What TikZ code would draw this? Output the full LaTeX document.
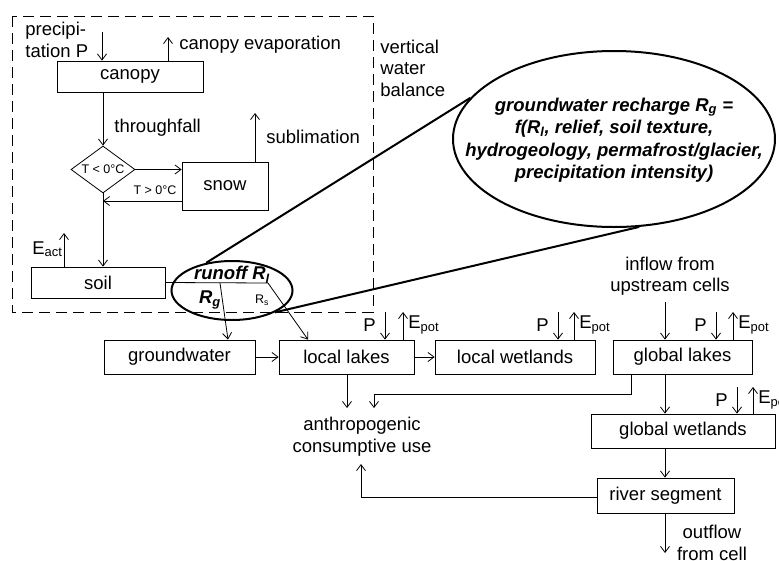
\documentclass[tikz,border=0pt]{standalone}
\usepackage{fontspec}
\setmainfont{Liberation Sans}
\usetikzlibrary{shapes.geometric}
\usetikzlibrary{arrows.meta}

\tikzset{
  box/.style={draw, inner sep=0pt},
  lbl/.style={inner sep=0pt},
  small/.style={font=\fontsize{12.5}{14}\selectfont},
  bubble/.style={draw, ellipse, line width=2pt, inner sep=0pt},
  bolditalic/.style={font=\fontsize{18.5}{22.5}\selectfont\bfseries\itshape},
}

\begin{document}
\begin{tikzpicture}[x=1pt, y=-1pt, line width=0.8pt, >={Straight Barb[length=6pt,width=9pt]},
    every node/.style={font=\fontsize{18.5}{21.5}\selectfont}]
    \useasboundingbox (0,0) rectangle (779,560);

    % vertical water balance
    \draw[dash pattern=on 11pt off 6pt] (12,16) rectangle (373,312);
    \node[lbl, anchor=west, align=left] (vwb) at (380,68) {vertical\\water\\balance};

    \node[box, minimum width=146pt, minimum height=31pt] (canopy) at (130,76.5) {canopy};
    \node[box, diamond, aspect=1.4, minimum width=64pt, minimum height=47pt, small] (temp) at (103,169.5) {T < 0°C};
    \node[box, minimum width=86pt, minimum height=48pt] (snow) at (225,186) {snow};
    \node[box, minimum width=134pt, minimum height=31pt] (soil) at (98,282.5) {soil};

    \node[lbl, anchor=west, align=left] (precip) at (25,40) {precipi-\\tation P};
    \node[lbl, anchor=west] (cevap) at (179,45) {canopy evaporation};
    \node[lbl, anchor=west] (tfall) at (114,128) {throughfall};
    \node[lbl, anchor=west] (subl) at (266,137) {sublimation};
    \node[lbl, small] (warm) at (155,190) {T > 0°C};
    \node[lbl, anchor=west] (eact) at (32,249) {E\textsubscript{act}};

    \draw[->] (102,32) -- (102,0 |- canopy.north);
    \draw[->] (168,0 |- canopy.north) -- (168,37);
    \draw[->] (canopy.south -| temp.north) -- (temp.north);
    \draw[->] (temp.east) -- (snow.west |- temp.east);
    \draw[->] (255,0 |- snow.north) -- (255,113);
    \draw[->] (snow.west |- 0,201) -- (103,201);
    \draw[->] (temp.south) -- (temp.south |- soil.north);
    \draw[->] (64,0 |- soil.north) -- (64,233);

    % runoff
    \node[bubble, minimum width=121pt, minimum height=59pt] (runoff) at (232,290.5) {};
    \node[lbl, bolditalic] (rl) at (232,275) {runoff R\textsubscript{l}};
    \node[lbl, bolditalic] (rg) at (210,300) {R\textsubscript{g}};
    \node[lbl, small] (rs) at (262,300) {R\textsubscript{s}};
    \coordinate (split) at (268,283);
    \draw (soil.east) -- (split);

    \node[bubble, minimum width=322pt, minimum height=176pt] (recharge) at (614,139) {};
    \node[lbl, bolditalic, align=center] (rtext) at (614,140)
        {groundwater recharge R\textsubscript{g} =\\f(R\textsubscript{l}, relief, soil texture,\\hydrogeology, permafrost/glacier,\\precipitation intensity)};
    \draw[line width=2pt] (runoff.133) -- (recharge.164);
    \draw[line width=2pt] (runoff.-27) -- (recharge.-74);

    % horizontal water balance
    \node[box, minimum width=151pt, minimum height=34pt] (gw) at (179.5,357) {groundwater};
    \node[box, minimum width=135pt, minimum height=34pt] (llakes) at (346.5,357) {local lakes};
    \node[box, minimum width=160pt, minimum height=34pt] (lwet) at (515,357) {local wetlands};
    \node[box, minimum width=139pt, minimum height=34pt] (glakes) at (682.5,357) {global lakes};
    \node[box, minimum width=184pt, minimum height=34pt] (gwet) at (683,431) {global wetlands};
    \node[box, minimum width=137pt, minimum height=35pt] (river) at (665.5,495.5) {river segment};

    \node[lbl, align=center] (inflow) at (670,276) {inflow from\\upstream cells};
    \node[lbl, align=center] (anthro) at (362,436.5) {anthropogenic\\consumptive use};
    \node[lbl, align=center] (outflow) at (712,543) {outflow\\from cell};

    \draw[->] (220,283) -- (228,0 |- gw.north);
    \draw[->] (split) -- (308,0 |- llakes.north);
    \draw[->] (gw) -- (llakes);
    \draw[->] (llakes) -- (lwet);
    \draw[->] (665,302) -- (665,0 |- glakes.north);
    \draw[->] (665,0 |- glakes.south) -- (665,0 |- gwet.north);
    \draw[->] (665,0 |- gwet.south) -- (665,0 |- river.north);
    \draw[->] (river.south -| 665,0) -- (665,553);

    % P and E_pot
    \draw[->] (385,312) -- (385,0 |- llakes.north);
    \draw[->] (403,0 |- llakes.north) -- (403,312);
    \node[lbl, anchor=east] (pll) at (376,325) {P};
    \node[lbl, anchor=west] (ell) at (408,325) {E\textsubscript{pot}};
    \draw[->] (558,312) -- (558,0 |- lwet.north);
    \draw[->] (574,0 |- lwet.north) -- (574,312);
    \node[lbl, anchor=east] (plw) at (549,325) {P};
    \node[lbl, anchor=west] (elw) at (579,325) {E\textsubscript{pot}};
    \draw[->] (716,312) -- (716,0 |- glakes.north);
    \draw[->] (733,0 |- glakes.north) -- (733,312);
    \node[lbl, anchor=east] (pgl) at (707,325) {P};
    \node[lbl, anchor=west] (egl) at (738,325) {E\textsubscript{pot}};
    \draw[->] (737,387) -- (737,0 |- gwet.north);
    \draw[->] (753,0 |- gwet.north) -- (753,387);
    \node[lbl, anchor=east] (pgw) at (728,400) {P};
    \node[lbl, anchor=west] (egw) at (758,400) {E\textsubscript{pot}};

    % consumptive use
    \draw[->] (llakes.south -| 347,0) -- (347,408);
    \draw[->] (glakes.south -| 631,0) |- (374,394) -- (374,408);
    \draw[->] (river.west |- 0,497) -| (361,464);
\end{tikzpicture}
\end{document}
